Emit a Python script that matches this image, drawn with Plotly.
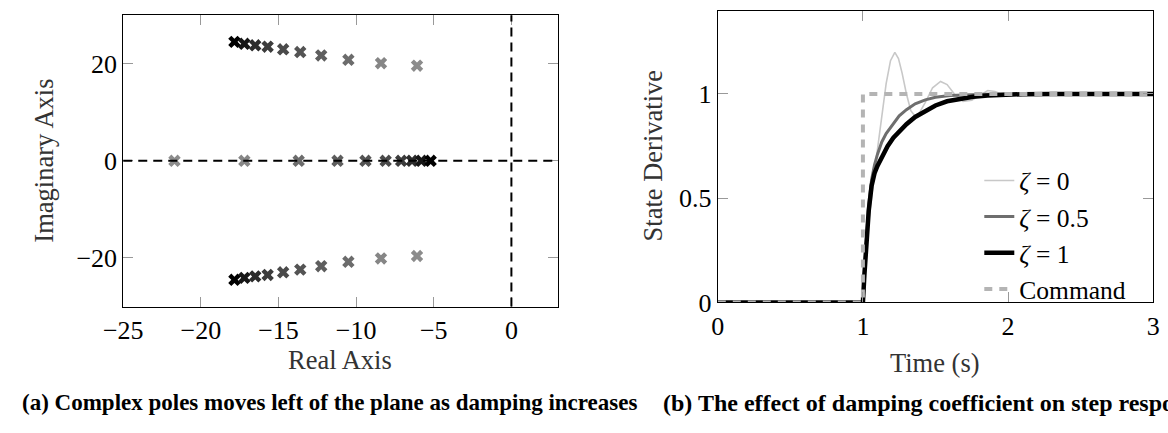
import plotly.graph_objects as go

# ---------------- data: root locus (left) ----------------
complex_re = [-6.08, -8.4, -10.5, -12.25, -13.6, -14.7, -15.7, -16.5, -17.2, -17.84]
complex_im = [19.6, 20.1, 20.8, 21.7, 22.4, 22.96, 23.5, 23.8, 24.1, 24.5]
real_pole = [-21.7, -17.2, -13.7, -11.2, -9.4, -8.1, -7.1, -6.4, -5.8, -5.2]

# ---------------- data: step responses (right) ----------------
t_z0 = [0, 1.0, 1.02, 1.05, 1.09, 1.13, 1.16, 1.19, 1.22, 1.245, 1.27, 1.3, 1.33, 1.36,
        1.39, 1.43, 1.48, 1.535, 1.58, 1.63, 1.69, 1.75, 1.81, 1.86, 1.91, 1.96, 2.02, 2.1, 3.0]
y_z0 = [0, 0, 0.25, 0.45, 0.68, 0.88, 1.05, 1.16, 1.2, 1.17, 1.1, 1.0, 0.92, 0.893,
        0.91, 0.96, 1.03, 1.06, 1.045, 1.0, 0.965, 0.97, 0.995, 1.017, 1.012, 0.998, 0.995, 1.0, 1.0]

t_z05 = [0, 1.0, 1.01, 1.025, 1.04, 1.06, 1.08, 1.1, 1.13, 1.16, 1.2, 1.25, 1.3, 1.36,
         1.43, 1.5, 1.6, 1.72, 1.85, 2.0, 3.0]
y_z05 = [0, 0, 0.15, 0.33, 0.47, 0.59, 0.66, 0.71, 0.77, 0.81, 0.85, 0.895, 0.925, 0.953,
         0.972, 0.984, 0.993, 0.997, 0.999, 1.0, 1.0]

t_z1 = [0, 1.0, 1.01, 1.025, 1.04, 1.06, 1.08, 1.1, 1.13, 1.17, 1.21, 1.25, 1.3, 1.36,
        1.42, 1.5, 1.58, 1.67, 1.76, 1.86, 1.96, 2.1, 2.3, 3.0]
y_z1 = [0, 0, 0.13, 0.3, 0.44, 0.56, 0.62, 0.655, 0.7, 0.75, 0.79, 0.82, 0.855, 0.89,
        0.915, 0.945, 0.965, 0.978, 0.987, 0.993, 0.997, 0.999, 1.0, 1.0]

t_cmd = [0, 1, 1, 3]
y_cmd = [0, 0, 1, 1]

left_xticks = [-25, -20, -15, -10, -5, 0]
left_yticks = [-20, 0, 20]
right_xticks = [0, 1, 2, 3]
right_yticks = [0, 0.5, 1]

legend_names = ["<i>ζ</i> = 0", "<i>ζ</i> = 0.5", "<i>ζ</i> = 1", "Command"]

# ---------------- styles ----------------
pole_colors = ["#8c8c8c", "#868686", "#6c6c6c", "#5e5e5e", "#545454",
               "#4a4a4a", "#3c3c3c", "#2c2c2c", "#161616", "#000000"]
SERIF = "Liberation Serif, Times New Roman, serif"
W, H = 1168, 433

fig = go.Figure()

# poles
for i in range(len(complex_re)):
    fig.add_trace(go.Scatter(
        x=[complex_re[i], complex_re[i], real_pole[i]],
        y=[complex_im[i], -complex_im[i], 0],
        mode="markers",
        marker=dict(symbol="x", size=11, color=pole_colors[i], line=dict(width=0)),
        xaxis="x", yaxis="y", showlegend=False, hoverinfo="skip"))

# step responses
fig.add_trace(go.Scatter(x=t_z0, y=y_z0, mode="lines", name=legend_names[0],
                         line=dict(color="#c8c8c8", width=1.6), xaxis="x2", yaxis="y2"))
fig.add_trace(go.Scatter(x=t_z05, y=y_z05, mode="lines", name=legend_names[1],
                         line=dict(color="#6e6e6e", width=3), xaxis="x2", yaxis="y2"))
fig.add_trace(go.Scatter(x=t_z1, y=y_z1, mode="lines", name=legend_names[2],
                         line=dict(color="#000000", width=4.5), xaxis="x2", yaxis="y2"))
fig.add_trace(go.Scatter(x=t_cmd, y=y_cmd, mode="lines", name=legend_names[3],
                         line=dict(color="#b4b4b4", width=4, dash="8px,7px"),
                         xaxis="x2", yaxis="y2"))

axis_common = dict(showgrid=False, zeroline=False, showline=True, linecolor="black",
                   linewidth=1, mirror="ticks", ticks="inside", ticklen=10,
                   tickcolor="#999999", tickwidth=1,
                   tickfont=dict(family=SERIF, size=26, color="black"))

fig.update_layout(
    width=W, height=H, autosize=False,
    margin=dict(l=0, r=0, t=0, b=0),
    paper_bgcolor="white", plot_bgcolor="white",
    xaxis=dict(domain=[105.7 / W, 550.7 / W], range=[-25, 3], tickvals=left_xticks,
               anchor="y", **axis_common),
    yaxis=dict(domain=[1 - 317.5 / H, 1 - 15.7 / H], range=[-30, 30], tickvals=left_yticks,
               anchor="x", **axis_common),
    xaxis2=dict(domain=[714.3 / W, 1160 / W], range=[0, 3], tickvals=right_xticks,
                anchor="y2", **axis_common),
    yaxis2=dict(domain=[1 - 313.3 / H, 1 - 11 / H], range=[0, 1.4], tickvals=right_yticks,
                anchor="x2", **axis_common),
    legend=dict(x=982 / W, y=1 - 163 / H, xanchor="left", yanchor="top",
                bgcolor="rgba(0,0,0,0)", borderwidth=0,
                font=dict(family=SERIF, size=25.5, color="black"),
                tracegroupgap=0),
    shapes=[
        dict(type="line", xref="x", yref="y domain", x0=0, x1=0, y0=0, y1=1,
             line=dict(color="black", width=2, dash="9px,6px")),
        dict(type="line", xref="x domain", yref="y", x0=0, x1=1, y0=0, y1=0,
             line=dict(color="black", width=2, dash="9px,6px")),
    ],
)

title_font = dict(family=SERIF, size=26.5, color="#333333")
annos = [
    dict(text="Real Axis", x=328 / W, y=1 - 373 / H, font=title_font),
    dict(text="Imaginary Axis", x=25 / W, y=1 - 166 / H, font=title_font, textangle=-90),
    dict(text="Time (s)", x=937 / W, y=1 - 376 / H, font=title_font),
    dict(text="State Derivative", x=648 / W, y=1 - 162 / H, font=title_font, textangle=-90),
    dict(text="<b>(a) Complex poles moves left of the plane as damping increases</b>",
         x=0 / W, y=1 - 417 / H, font=dict(family=SERIF, size=23, color="black"),
         xanchor="left"),
    dict(text="<b>(b) The effect of damping coefficient on step response</b>",
         x=656 / W, y=1 - 417 / H, font=dict(family=SERIF, size=24, color="black"),
         xanchor="left"),
]
for a in annos:
    a.setdefault("xanchor", "center")
    a.update(xref="paper", yref="paper", yanchor="middle", showarrow=False)
fig.update_layout(annotations=annos)

fig.write_html("out.html")
